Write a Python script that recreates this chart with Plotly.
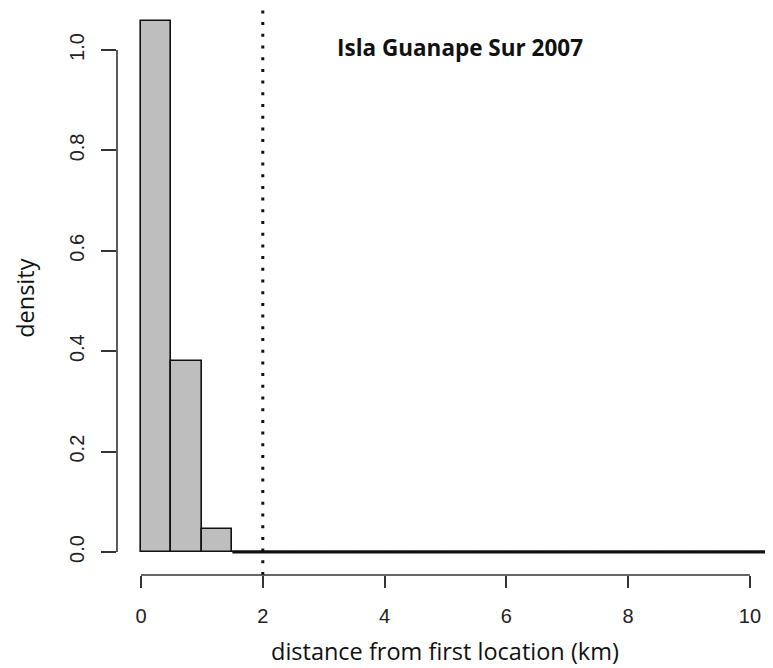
import plotly.graph_objects as go

# histogram bins (km) and density values
bin_left = [0.0, 0.5, 1.0, 1.5, 2.0, 2.5, 3.0, 3.5, 4.0, 4.5, 5.0, 5.5,
            6.0, 6.5, 7.0, 7.5, 8.0, 8.5, 9.0, 9.5, 10.0, 10.5]
density = [1.058, 0.380, 0.046, 0, 0, 0, 0, 0, 0, 0, 0, 0,
           0, 0, 0, 0, 0, 0, 0, 0, 0, 0]
bin_width = 0.5
threshold_km = 2

x_ticks = [0, 2, 4, 6, 8, 10]
y_ticks = [0.0, 0.2, 0.4, 0.6, 0.8, 1.0]

centers = [b + bin_width / 2 for b in bin_left]

# zero-height bins are drawn as a flat outline along the baseline
zero_x = [b for b, d in zip(bin_left, density) if d == 0]
zero_x = zero_x + [zero_x[-1] + bin_width]
zero_y = [0] * len(zero_x)

fig = go.Figure()
fig.add_trace(go.Bar(
    x=centers,
    y=density,
    width=bin_width,
    marker=dict(color='#bebebe', line=dict(color='#111111', width=1.6)),
    showlegend=False,
))
fig.add_trace(go.Scatter(
    x=zero_x, y=zero_y, mode='lines',
    line=dict(color='#111111', width=3),
    showlegend=False, hoverinfo='skip',
))
fig.add_vline(x=threshold_km, line=dict(color='#111111', width=3, dash='3px,8.7px'))

tick_font = dict(family='Liberation Sans, Arial, sans-serif', size=20, color='#222222')
label_font = dict(family='Open Sans, sans-serif', size=23.5, color='#111111')

# R-style axes: lines only span the tick range
fig.add_shape(type='line', xref='x', yref='paper', x0=x_ticks[0], x1=x_ticks[-1],
              y0=0, y1=0, line=dict(color='#333333', width=1.6))
fig.add_shape(type='line', xref='paper', yref='y', x0=0, x1=0,
              y0=y_ticks[0], y1=y_ticks[-1], line=dict(color='#333333', width=1.6))

fig.update_xaxes(
    range=[-0.394, 10.378], showgrid=False, zeroline=False, showline=False,
    tickvals=x_ticks, ticks='outside', ticklen=12, tickwidth=1.6, tickcolor='#333333',
    tickfont=tick_font, ticklabelstandoff=11,
)
fig.update_yaxes(
    range=[-0.0458, 1.0837], showgrid=False, zeroline=False, showline=False,
    tickvals=y_ticks, tickformat='.1f', ticks='outside', ticklen=15, tickwidth=1.6,
    tickcolor='#333333', tickfont=tick_font, tickangle=-90, ticklabelstandoff=9,
)

fig.add_annotation(text='distance from first location (km)', xref='paper', yref='paper',
                   x=0.5, y=-0.134, showarrow=False, font=label_font,
                   xanchor='center', yanchor='middle')
fig.add_annotation(text='density', xref='paper', yref='paper', x=-0.1405, y=0.4885,
                   showarrow=False, font=label_font, textangle=-90,
                   xanchor='center', yanchor='middle')
fig.add_annotation(text='<b>Isla Guanape Sur 2007</b>', xref='paper', yref='paper',
                   x=0.523, y=0.931, showarrow=False,
                   font=dict(family='Open Sans, sans-serif', size=22.5, color='#111111'),
                   xanchor='center', yanchor='middle')

fig.update_layout(
    width=765, height=660,
    margin=dict(l=109, r=0, t=0, b=93),
    plot_bgcolor='white', paper_bgcolor='white',
    bargap=0,
)
fig.write_html('out.html')
